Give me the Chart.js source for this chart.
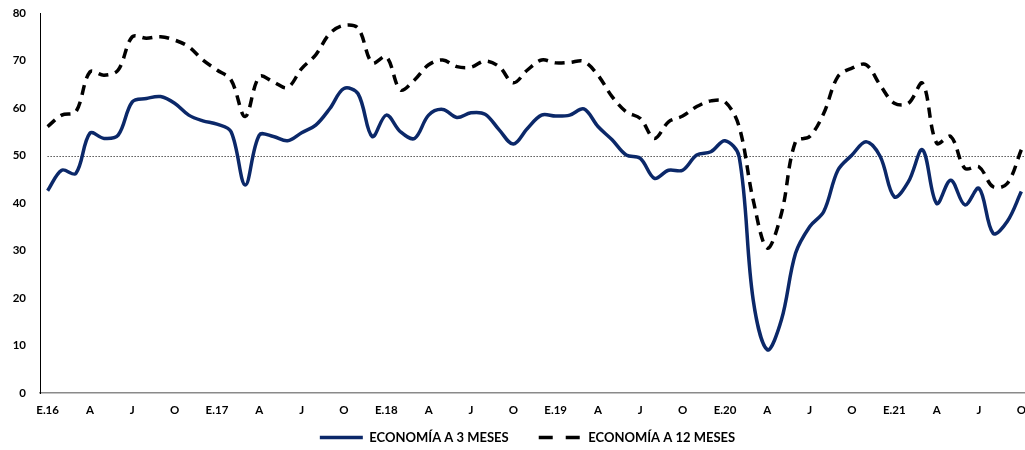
<!DOCTYPE html>
<html><head><meta charset="utf-8">
<script src="https://cdn.jsdelivr.net/npm/chart.js@4.4.1/dist/chart.umd.min.js"></script>
<style>html,body{margin:0;padding:0;background:#fff;overflow:hidden}#wrap{position:relative;width:1025px;height:450px}canvas{display:block}</style>
</head><body><div id="wrap"><canvas id="c" width="1025" height="450" style="width:1025px;height:450px"></canvas></div>
<script>
const months = [
 "E.16","F.16","M.16","A.16","M.16","J.16","J.16","A.16","S.16","O.16","N.16","D.16",
 "E.17","F.17","M.17","A.17","M.17","J.17","J.17","A.17","S.17","O.17","N.17","D.17",
 "E.18","F.18","M.18","A.18","M.18","J.18","J.18","A.18","S.18","O.18","N.18","D.18",
 "E.19","F.19","M.19","A.19","M.19","J.19","J.19","A.19","S.19","O.19","N.19","D.19",
 "E.20","F.20","M.20","A.20","M.20","J.20","J.20","A.20","S.20","O.20","N.20","D.20",
 "E.21","F.21","M.21","A.21","M.21","J.21","J.21","A.21","S.21","O.21"];
const tickLabels = ["E.16","A","J","O","E.17","A","J","O","E.18","A","J","O",
 "E.19","A","J","O","E.20","A","J","O","E.21","A","J","O"];
const economia3m = [
 42.6,46.9,46.2,54.7,53.6,54.3,61.3,62.0,62.4,61.0,58.5,57.3,
 56.6,55.0,43.8,54.3,54.0,53.1,54.8,56.4,59.9,64.1,63.0,54.0,
 58.5,55.0,53.6,58.5,59.7,58.0,59.0,58.7,55.4,52.4,55.7,58.5,
 58.3,58.5,59.8,56.1,53.3,50.1,49.4,45.2,46.9,46.9,50.1,50.8,
 53.1,49.8,19.6,9.1,15.4,29.4,35.0,38.2,46.9,50.1,52.9,49.8,
 41.3,44.5,51.2,39.9,44.8,39.6,43.1,33.6,36.1,42.4];
const economia12m = [
 56.1,58.5,59.2,67.6,66.9,68.0,75.0,74.7,75.0,74.3,72.9,70.1,
 68.0,65.9,58.2,66.6,65.5,64.3,68.3,71.2,75.7,77.4,76.8,69.5,
 70.8,63.8,65.9,69.1,70.1,68.7,68.6,69.9,68.7,65.3,68.0,70.1,
 69.5,69.6,69.8,66.9,62.4,59.2,57.8,53.6,57.1,58.3,60.3,61.5,
 61.3,56.1,40.6,30.5,37.8,52.9,54.0,58.9,66.6,68.4,69.1,64.8,
 61.0,61.0,65.2,52.6,54.0,47.3,47.6,43.4,44.1,51.2];
const seriesNames = ["ECONOMÍA A 3 MESES","ECONOMÍA A 12 MESES"];
const threshold = 50;

const toXY = arr => arr.map((v,i)=>({x:i,y:v}));
const fontTick = {family:"Lato", weight:"bold", size:11.5};
const noLabelClip = scale => { scale._computeLabelArea = () => undefined; };

const refLine = {
  id:'refLine',
  beforeDatasetsDraw(chart){
    const {ctx, chartArea, scales:{x,y}} = chart;
    const py = Math.round(y.getPixelForValue(threshold)) + 0.5;
    ctx.save();
    ctx.beginPath();
    ctx.setLineDash([1,2]);
    ctx.lineWidth = 1;
    ctx.strokeStyle = '#000';
    ctx.moveTo(x.getPixelForValue(0), py);
    ctx.lineTo(chartArea.right, py);
    ctx.stroke();
    ctx.restore();
  }
};

new Chart(document.getElementById('c'), {
  type:'line',
  data:{
    datasets:[
      {label:seriesNames[0], data:toXY(economia3m), borderColor:'#0b2869', backgroundColor:'#0b2869',
       borderWidth:3.5, pointRadius:0, tension:0.35, fill:false},
      {label:seriesNames[1], data:toXY(economia12m), borderColor:'#000', backgroundColor:'#000',
       borderWidth:3.5, borderDash:[10,7], pointRadius:0, tension:0.35, fill:false}
    ]
  },
  options:{
    responsive:false, animation:false,
    devicePixelRatio:1,
    layout:{padding:{left:30, top:13, right:0, bottom:0}},
    plugins:{
      tooltip:{enabled:false},
      legend:{
        position:'bottom', maxHeight:49,
        labels:{
          usePointStyle:true, pointStyle:'line', pointStyleWidth:43, padding:30,
          color:'#000', font:{family:"Lato", weight:"bold", size:13},
          generateLabels(chart){
            const items = Chart.defaults.plugins.legend.labels.generateLabels(chart);
            if (items[1]) items[1].lineDash = [14,13];
            return items;
          }
        }
      }
    },
    scales:{
      x:{
        type:'linear', min:-0.54, max:69.26,
        grid:{display:false, drawTicks:false},
        border:{display:true, color:'#8a8a8a', width:1.5},
        afterBuildTicks(scale){ scale.ticks = tickLabels.map((_,k)=>({value:k*3})); },
        afterFit(scale){ scale.height = 8; scale.paddingRight = 0; scale.paddingLeft = 0; noLabelClip(scale); },
        ticks:{autoSkip:false, maxRotation:0, padding:10, color:'#000', font:fontTick,
          callback:(v)=>tickLabels[Math.round(v/3)]}
      },
      y:{
        min:0, max:80,
        grid:{display:false, drawTicks:false},
        border:{display:true, color:'#000', width:1},
        afterFit(scale){ scale.width = 10; scale.paddingTop = 0; scale.paddingBottom = 0; noLabelClip(scale); },
        ticks:{stepSize:10, padding:14, color:'#000', font:fontTick}
      }
    }
  },
  plugins:[refLine]
});
</script></body></html>
